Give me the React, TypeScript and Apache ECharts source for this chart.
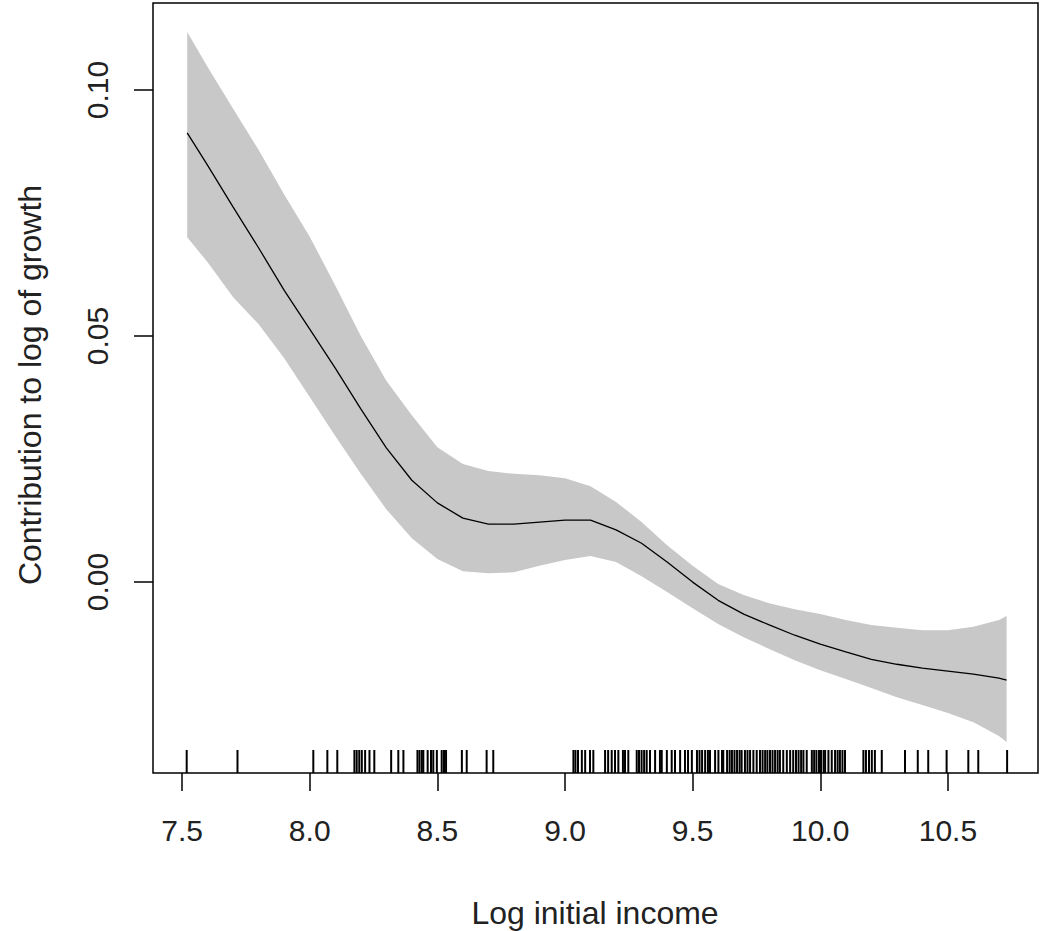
import React, { useEffect, useRef } from "react";
import * as echarts from "echarts";

// Grid of evaluation points (log initial income)
const gridX = [7.52, 7.6, 7.7, 7.8, 7.9, 8.0, 8.1, 8.2, 8.3, 8.4, 8.5, 8.6, 8.7, 8.8, 8.9, 9.0, 9.1, 9.2, 9.3, 9.4, 9.5, 9.6, 9.7, 9.8, 9.9, 10.0, 10.1, 10.2, 10.3, 10.4, 10.5, 10.6, 10.7, 10.73];
// Smooth fitted contribution
const fitted = [0.0913, 0.0847, 0.0762, 0.0679, 0.0593, 0.0514, 0.0435, 0.0352, 0.0273, 0.0207, 0.0161, 0.013, 0.0118, 0.0118, 0.0122, 0.0126, 0.0126, 0.0106, 0.0079, 0.0041, 0.0, -0.0037, -0.0065, -0.0087, -0.0108, -0.0126, -0.0142, -0.0157, -0.0167, -0.0175, -0.0181, -0.0187, -0.0195, -0.0199];
// Upper and lower confidence limits
const upperBand = [0.1118, 0.1047, 0.0962, 0.0878, 0.0788, 0.0702, 0.0603, 0.05, 0.0409, 0.0339, 0.0274, 0.024, 0.0226, 0.022, 0.0217, 0.0211, 0.0195, 0.0163, 0.0122, 0.0075, 0.0033, -0.0004, -0.0026, -0.0043, -0.0055, -0.0065, -0.0077, -0.0087, -0.0093, -0.0098, -0.0098, -0.0091, -0.0077, -0.0069];
const lowerBand = [0.0701, 0.065, 0.0579, 0.0524, 0.0455, 0.0376, 0.0297, 0.022, 0.0148, 0.0089, 0.0047, 0.0022, 0.0018, 0.002, 0.0033, 0.0045, 0.0053, 0.0041, 0.0012, -0.002, -0.0053, -0.0085, -0.0112, -0.0136, -0.0159, -0.0179, -0.0197, -0.0215, -0.0234, -0.025, -0.0266, -0.0285, -0.0313, -0.0325];
// Rug: observed log initial income values
const rugValues = [
  7.518, 7.717, 8.014, 8.069, 8.108, 8.175, 8.184, 8.194, 8.204, 8.217, 8.234, 8.253, 8.319, 8.347, 8.367,
  8.422, 8.43, 8.439, 8.445, 8.462, 8.475, 8.484, 8.498, 8.517, 8.526, 8.534, 8.596, 8.615, 8.693, 8.719,
  9.033, 9.041, 9.051, 9.066, 9.079, 9.098, 9.111, 9.157, 9.169, 9.183, 9.196, 9.209, 9.227, 9.235, 9.248,
  9.281, 9.29, 9.3, 9.31, 9.32, 9.333, 9.353, 9.372, 9.379, 9.399, 9.418, 9.431, 9.451, 9.47, 9.482,
  9.497, 9.517, 9.527, 9.537, 9.549, 9.56, 9.568, 9.588, 9.601, 9.615, 9.62, 9.635, 9.645, 9.654, 9.664,
  9.674, 9.684, 9.692, 9.705, 9.715, 9.725, 9.738, 9.751, 9.764, 9.774, 9.784, 9.793, 9.803, 9.813, 9.823,
  9.833, 9.842, 9.855, 9.869, 9.882, 9.894, 9.905, 9.915, 9.925, 9.934, 9.947, 9.967, 9.976, 9.985, 9.995,
  10.003, 10.013, 10.019, 10.032, 10.045, 10.058, 10.068, 10.077, 10.087, 10.097, 10.169, 10.179, 10.191,
  10.202, 10.214, 10.241, 10.332, 10.382, 10.423, 10.495, 10.58, 10.619, 10.732,
];
const xTicks = [7.5, 8.0, 8.5, 9.0, 9.5, 10.0, 10.5];
const yTicks = [0.0, 0.05, 0.1];
const xRange = [7.386, 10.853];
const yRange = [-0.0388, 0.1177];
const xTitle = "Log initial income";
const yTitle = "Contribution to log of growth";

const FONT = "'Liberation Sans', Arial, sans-serif";
const TEXT_COLOR = "#222";

export default function App() {
  const ref = useRef<HTMLDivElement>(null);
  useEffect(() => {
    document.body.style.margin = "0";
    if (!ref.current) return;
    const chart = echarts.init(ref.current, undefined, { renderer: "svg" });
    const option: any = {
      animation: false,
      backgroundColor: "#fff",
      grid: {
        left: 153,
        top: 3,
        right: 2,
        bottom: 158,
        show: true,
        borderColor: "#000",
        borderWidth: 1.5,
        backgroundColor: "transparent",
      },
      xAxis: {
        type: "value",
        min: xRange[0],
        max: xRange[1],
        axisLine: { show: false, onZero: false },
        splitLine: { show: false },
        axisTick: {
          show: true,
          length: 18,
          customValues: xTicks,
          lineStyle: { color: "#000", width: 1.5 },
        },
        axisLabel: {
          customValues: xTicks,
          margin: 42,
          fontSize: 30,
          fontFamily: FONT,
          color: TEXT_COLOR,
          formatter: (v: number) => v.toFixed(1),
        },
      },
      yAxis: {
        type: "value",
        min: yRange[0],
        max: yRange[1],
        axisLine: { show: false, onZero: false },
        splitLine: { show: false },
        axisTick: {
          show: true,
          length: 19,
          customValues: yTicks,
          lineStyle: { color: "#000", width: 1.5 },
        },
        axisLabel: {
          customValues: yTicks,
          rotate: 90,
          margin: 41,
          fontSize: 30,
          fontFamily: FONT,
          color: TEXT_COLOR,
          formatter: (v: number) => v.toFixed(2),
        },
      },
      graphic: [
        {
          type: "text",
          x: 595,
          y: 913,
          style: {
            text: xTitle,
            x: 0,
            y: 0,
            align: "center",
            verticalAlign: "middle",
            font: `32px ${FONT}`,
            fill: TEXT_COLOR,
          },
        },
        {
          type: "text",
          x: 30,
          y: 385,
          rotation: Math.PI / 2,
          style: {
            text: yTitle,
            x: 0,
            y: 0,
            align: "center",
            verticalAlign: "middle",
            font: `32px ${FONT}`,
            fill: TEXT_COLOR,
          },
        },
      ],
      series: [
        {
          type: "custom",
          name: "band",
          data: [[gridX[0], fitted[0]]],
          z: 1,
          renderItem: (_params: any, api: any) => {
            const pts: number[][] = [];
            for (let i = 0; i < gridX.length; i++) pts.push(api.coord([gridX[i], upperBand[i]]));
            for (let i = gridX.length - 1; i >= 0; i--) pts.push(api.coord([gridX[i], lowerBand[i]]));
            return {
              type: "polygon",
              shape: { points: pts },
              style: { fill: "#c8c8c8", stroke: "none" },
            };
          },
        },
        {
          type: "line",
          name: "fit",
          z: 3,
          data: gridX.map((x, i) => [x, fitted[i]]),
          showSymbol: false,
          smooth: false,
          lineStyle: { color: "#000", width: 1.3 },
        },
        {
          type: "custom",
          name: "rug",
          z: 4,
          data: rugValues.map((v) => [v, yRange[0]]),
          renderItem: (_params: any, api: any) => {
            const p = api.coord([api.value(0), yRange[0]]);
            return {
              type: "line",
              shape: { x1: p[0], y1: p[1], x2: p[0], y2: p[1] - 23 },
              style: { stroke: "#000", lineWidth: 2 },
            };
          },
        },
      ],
    };
    chart.setOption(option);
    return () => chart.dispose();
  }, []);
  return <div ref={ref} style={{ width: 1040, height: 931 }} />;
}
